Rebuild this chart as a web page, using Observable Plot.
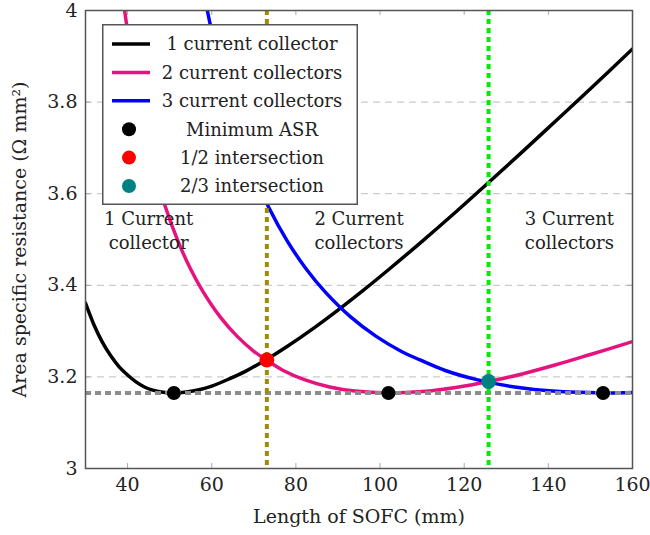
<!DOCTYPE html>
<html>
<head>
<meta charset="utf-8">
<script src="https://cdn.jsdelivr.net/npm/d3@7"></script>
<script src="https://cdn.jsdelivr.net/npm/@observablehq/plot@0.6"></script>
<style>
  body { margin: 0; background: white; }
  #wrap { position: relative; width: 650px; height: 535px; }
  #legend { position: absolute; left: 102px; top: 24px; }
</style>
</head>
<body>
<div id="wrap"><div id="chart"></div><div id="legend"></div></div>
<script>
// ---- data ----
const len1 = [30, 32, 34, 36, 38, 40, 42, 44, 46, 48, 51, 54, 57, 60, 64, 68, 73, 78, 84, 90, 96, 102, 110, 118, 126, 134, 142, 150, 160];
const asr1 = [3.361, 3.314, 3.276, 3.246, 3.222, 3.204, 3.189, 3.178, 3.171, 3.167, 3.165, 3.167, 3.172, 3.180, 3.195, 3.212, 3.238, 3.267, 3.305, 3.346, 3.389, 3.434, 3.496, 3.560, 3.626, 3.693, 3.761, 3.829, 3.916];

const len2 = [38, 39.3, 41, 43, 45, 47, 49, 52, 55, 58, 62, 66, 70, 73, 77, 82, 88, 94, 102, 110, 118, 125.8, 134, 142, 150, 160];
const asr2 = [4.095, 4.0, 3.894, 3.790, 3.705, 3.633, 3.571, 3.496, 3.435, 3.385, 3.331, 3.289, 3.256, 3.237, 3.214, 3.194, 3.178, 3.169, 3.165, 3.168, 3.177, 3.190, 3.207, 3.227, 3.249, 3.277];

const len3 = [57, 58.95, 61.5, 64.5, 67.5, 70.5, 73.5, 78, 82.5, 87, 93, 99, 105, 109.5, 115.5, 123, 132, 141, 153, 160];
const asr3 = [4.095, 4.0, 3.894, 3.790, 3.705, 3.633, 3.571, 3.496, 3.435, 3.385, 3.331, 3.289, 3.256, 3.237, 3.214, 3.194, 3.178, 3.169, 3.165, 3.166];

const minLengths = [51, 102, 153];
const minASR = 3.165;
const inter12 = {len: 73.1, asr: 3.237};
const inter23 = {len: 125.8, asr: 3.190};

const regionLabels = ["1 Current\ncollector", "2 Current\ncollectors", "3 Current\ncollectors"];
const regionLen = [45, 95, 145];
const regionASR = 3.523;

const xTicks = [40, 60, 80, 100, 120, 140, 160];
const yTicks = [3, 3.2, 3.4, 3.6, 3.8, 4];
const gridTicks = [3.2, 3.4, 3.6, 3.8];

const legendLabels = ["1 current collector", "2 current collectors", "3 current collectors", "Minimum ASR", "1/2 intersection", "2/3 intersection"];
const legendKinds = ["line", "line", "line", "dot", "dot", "dot"];
const legendColors = ["#000000", "#e6137f", "#0000ff", "#000000", "#ff0000", "#008080"];

// ---- build tables ----
const curve1 = len1.map((x, i) => ({x, y: asr1[i]}));
const curve2 = len2.map((x, i) => ({x, y: asr2[i]}));
const curve3 = len3.map((x, i) => ({x, y: asr3[i]}));
const mins = minLengths.map(x => ({x, y: minASR}));
const regions = regionLabels.map((t, i) => ({t, x: regionLen[i], y: regionASR}));

const [xd0, xd1] = [30, 160];
const [yd0, yd1] = [3, 4];
const tickLenX = (xd1 - xd0) * 5 / 547;
const tickLenY = (yd1 - yd0) * 5 / 458;
const serif = "'DejaVu Serif', 'Liberation Serif', serif";

const chart = Plot.plot({
  width: 650,
  height: 535,
  marginLeft: 85,
  marginRight: 18,
  marginTop: 10,
  marginBottom: 67,
  style: {fontFamily: serif, fontSize: "19px", color: "#222", background: "white"},
  x: {domain: [xd0, xd1], ticks: xTicks, tickSize: 0, tickPadding: 9, tickFormat: d3.format("~g"),
      label: "Length of SOFC (mm)", labelAnchor: "center", labelOffset: 54, labelArrow: "none"},
  y: {domain: [yd0, yd1], ticks: yTicks, tickSize: 0, tickPadding: 8, tickFormat: d3.format("~g"),
      label: "Area specific resistance (Ω mm²)", labelAnchor: "center", labelOffset: 73, labelArrow: "none"},
  marks: [
    Plot.ruleY(gridTicks, {stroke: "#cccccc", strokeWidth: 1.2, strokeDasharray: "7,5"}),
    Plot.ruleX(xTicks, {y1: yd0, y2: yd0 + tickLenY, stroke: "#aaa", strokeWidth: 1}),
    Plot.ruleX(xTicks, {y1: yd1, y2: yd1 - tickLenY, stroke: "#aaa", strokeWidth: 1}),
    Plot.ruleY(yTicks, {x1: xd0, x2: xd0 + tickLenX, stroke: "#aaa", strokeWidth: 1}),
    Plot.ruleY(yTicks, {x1: xd1, x2: xd1 - tickLenX, stroke: "#aaa", strokeWidth: 1}),
    Plot.line(curve1, {x: "x", y: "y", stroke: legendColors[0], strokeWidth: 3.5, curve: "catmull-rom", clip: true}),
    Plot.line(curve2, {x: "x", y: "y", stroke: legendColors[1], strokeWidth: 3.5, curve: "catmull-rom", clip: true}),
    Plot.line(curve3, {x: "x", y: "y", stroke: legendColors[2], strokeWidth: 3.5, curve: "catmull-rom", clip: true}),
    Plot.ruleY([minASR], {stroke: "#8c8c8c", strokeWidth: 4, strokeDasharray: "6,4"}),
    Plot.ruleX([inter12.len], {stroke: "#9e8d00", strokeWidth: 4, strokeDasharray: "5,4"}),
    Plot.ruleX([inter23.len], {stroke: "#00ee00", strokeWidth: 4, strokeDasharray: "5,4"}),
    Plot.dot(mins, {x: "x", y: "y", r: 7, fill: legendColors[3], stroke: "none"}),
    Plot.dot([inter12], {x: "len", y: "asr", r: 7.5, fill: legendColors[4], stroke: "none"}),
    Plot.dot([inter23], {x: "len", y: "asr", r: 7.5, fill: legendColors[5], stroke: "none"}),
    Plot.text(regions, {x: "x", y: "y", text: "t", fontSize: 18, lineHeight: 1.35, fill: "#222"}),
    Plot.frame({stroke: "#555", strokeWidth: 1.5})
  ]
});
document.getElementById("chart").appendChild(chart);

// ---- legend ----
const lw = 256, lh = 181, rowH = 28.4;
const lg = d3.select("#legend").append("svg")
  .attr("width", lw).attr("height", lh)
  .style("font-family", serif).style("font-size", "18px");
lg.append("rect").attr("x", 0.75).attr("y", 0.75).attr("width", lw - 1.5).attr("height", lh - 1.5)
  .attr("fill", "white").attr("stroke", "#555").attr("stroke-width", 1.5);
legendLabels.forEach((label, i) => {
  const cy = 20 + i * rowH;
  if (legendKinds[i] === "line") {
    lg.append("line").attr("x1", 10).attr("x2", 48).attr("y1", cy).attr("y2", cy)
      .attr("stroke", legendColors[i]).attr("stroke-width", 3.5);
  } else {
    lg.append("circle").attr("cx", 27).attr("cy", cy).attr("r", 7).attr("fill", legendColors[i]);
  }
  lg.append("text").attr("x", 150).attr("y", cy).attr("dy", "0.35em")
    .attr("text-anchor", "middle").attr("fill", "#222").text(label);
});
</script>
</body>
</html>
